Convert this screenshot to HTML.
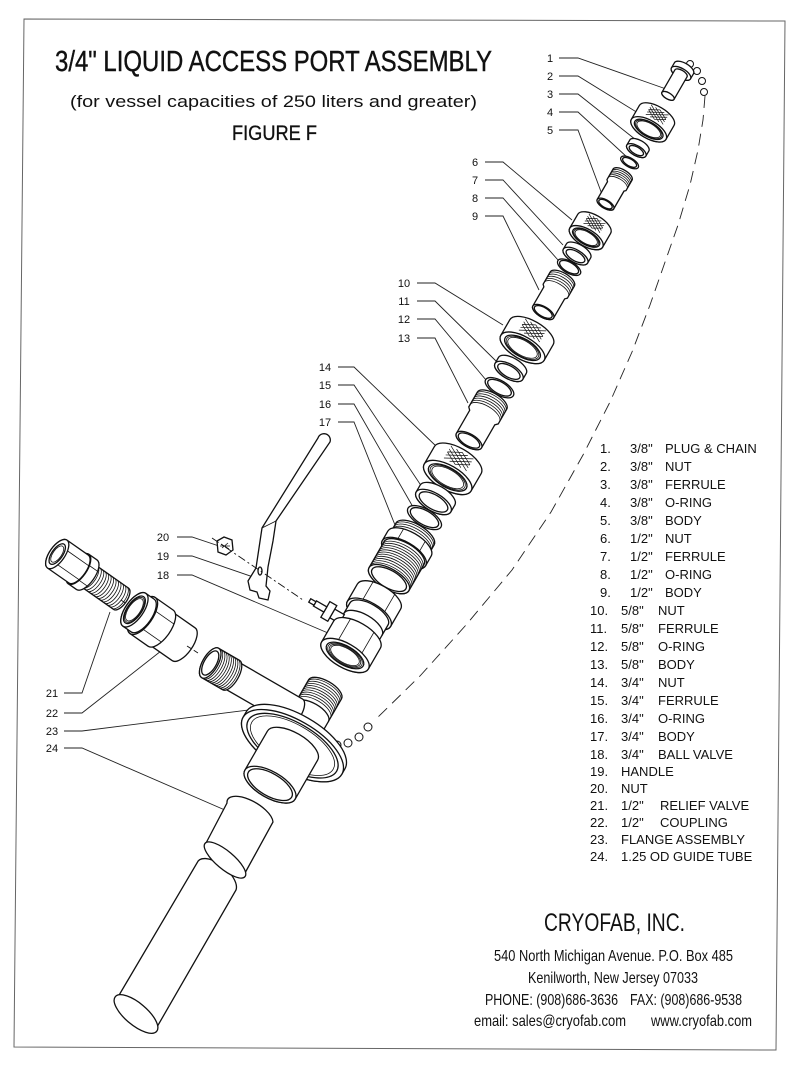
<!DOCTYPE html>
<html><head><meta charset="utf-8">
<style>
html,body{margin:0;padding:0;background:#fff;}
svg{display:block}
text{font-family:"Liberation Sans",Arial,sans-serif;fill:#111}
.s{fill:#fff;stroke:#111;stroke-width:1.3}
.n{fill:none;stroke:#111;stroke-width:1.3}
.t{fill:none;stroke:#111;stroke-width:0.8}
.l{fill:none;stroke:#222;stroke-width:0.9}
.lb{font-size:11px}
.li{font-size:13px}
</style></head><body>
<svg width="800" height="1070" viewBox="0 0 800 1070" xmlns="http://www.w3.org/2000/svg">
<defs>
<g id="hatch" fill="none" stroke="#111" stroke-width="0.7">
<path vector-effect="non-scaling-stroke" d="M-1,-0.5 L0.5,1 M-1,-1 L1,1 M-0.5,-1 L1,0.5 M-1,0 L0,1 M0,-1 L1,0 M-1,0.5 L0.5,-1 M-1,1 L1,-1 M-0.5,1 L1,-0.5 M-1,0 L0,-1 M0,1 L1,0"/>
</g>
</defs>
<rect width="800" height="1070" fill="#fff"/>
<polygon points="24,19 785,21 776,1050 14,1047" fill="none" stroke="#666" stroke-width="1"/>

<!-- Titles -->
<text x="55" y="71" font-size="29" textLength="437" lengthAdjust="spacingAndGlyphs" stroke="#111" stroke-width="0.4">3/4" LIQUID ACCESS PORT ASSEMBLY</text>
<text x="70" y="107" font-size="17" textLength="407" lengthAdjust="spacingAndGlyphs">(for vessel capacities of 250 liters and greater)</text>
<text x="232" y="140" font-size="21" textLength="85" lengthAdjust="spacingAndGlyphs" stroke="#111" stroke-width="0.3">FIGURE F</text>

<!-- Chain dashed line -->
<polyline class="l" stroke-dasharray="12 7" points="705,96 703,120 698,150 690,185 678,225 664,265 650,305 632,352 610,402 583,455 551,512 512,570 466,625 420,676 377,718"/>
<g fill="#fff" stroke="#111" stroke-width="1">
<circle cx="690" cy="64" r="3.5"/><circle cx="697" cy="71" r="3.5"/><circle cx="702" cy="81" r="3.5"/><circle cx="704" cy="92" r="3.5"/>
<circle cx="325" cy="740" r="4"/><circle cx="337" cy="745" r="4"/><circle cx="348" cy="743" r="4"/><circle cx="359" cy="737" r="4"/><circle cx="368" cy="727" r="4"/>
</g>

<!-- Leader lines -->
<g class="l">
<polyline points="559,58 578,58 669,90"/>
<polyline points="559,76 578,76 638,113"/>
<polyline points="559,94 578,94 636,140"/>
<polyline points="559,112 578,112 628,158"/>
<polyline points="559,130 578,130 603,197"/>
<polyline points="485,162 503,162 572,220"/>
<polyline points="485,180 503,180 563,245"/>
<polyline points="485,198 503,198 558,260"/>
<polyline points="485,216 503,216 539,290"/>
<polyline points="417,283 435,283 503,325"/>
<polyline points="417,301 435,301 497,362"/>
<polyline points="417,319 435,319 486,380"/>
<polyline points="417,338 435,338 468,403"/>
<polyline points="338,367 354,367 438,448"/>
<polyline points="338,385 354,385 424,490"/>
<polyline points="338,404 354,404 413,507"/>
<polyline points="338,422 354,422 395,525"/>
<polyline points="177,537 192,537 219,546"/>
<polyline points="177,556 192,556 256,578"/>
<polyline points="177,575 192,575 328,633"/>
<polyline points="64,693 82,693 110,612"/>
<polyline points="64,713 82,713 175,640"/>
<polyline points="64,731 82,731 272,707"/>
<polyline points="64,748 82,748 241,817"/>
</g>

<!-- Callout labels -->
<g class="lb" text-anchor="middle">
<text x="550" y="62">1</text><text x="550" y="80">2</text><text x="550" y="98">3</text><text x="550" y="116">4</text><text x="550" y="134">5</text>
<text x="475" y="166">6</text><text x="475" y="184">7</text><text x="475" y="202">8</text><text x="475" y="220">9</text>
<text x="404" y="287">10</text><text x="404" y="305">11</text><text x="404" y="323">12</text><text x="404" y="342">13</text>
<text x="325" y="371">14</text><text x="325" y="389">15</text><text x="325" y="408">16</text><text x="325" y="426">17</text>
<text x="163" y="541">20</text><text x="163" y="560">19</text><text x="163" y="579">18</text>
<text x="52" y="697">21</text><text x="52" y="717">22</text><text x="52" y="735">23</text><text x="52" y="752">24</text>
</g>

<!-- Part 1 plug -->
<g transform="translate(676,82) rotate(30)">
<path class="s" d="M-11,-16 A11,4.95 0 0 1 11,-16 L11,-10 A11,4.95 0 0 1 -11,-10 Z"/>
<ellipse class="s" cx="0" cy="-10" rx="11" ry="4.95"/>
<path class="s" d="M-7,-10 A7,3.15 0 0 1 7,-10 L7,16 A7,3.15 0 0 1 -7,16 Z"/>
<ellipse class="s" cx="0" cy="16" rx="7" ry="3.15"/>
</g>

<!-- Part 2 nut -->
<g transform="translate(652.7,122.4) rotate(30)">
<path class="s" d="M-20,-8 A20,9 0 0 1 20,-8 L20,8 A20,9 0 0 1 -20,8 Z"/>
<use href="#hatch" transform="translate(0,-9) scale(10,5.5)"/>
<ellipse class="s" cx="0" cy="8" rx="20" ry="9"/>
<ellipse class="s" cx="0" cy="8" rx="16" ry="7.2"/>
<ellipse class="t" cx="0" cy="8" rx="14.6" ry="6.57"/>
<ellipse class="t" cx="0" cy="8" rx="13.2" ry="5.94"/>
</g>

<!-- Part 3 ferrule -->
<g transform="translate(637.85,148) rotate(30)">
<path class="s" d="M-11,-3 A11,4.95 0 0 1 11,-3 L11,3 A11,4.95 0 0 1 -11,3 Z"/>
<ellipse class="s" cx="0" cy="3" rx="11" ry="4.95"/>
<ellipse class="s" cx="0" cy="3" rx="8" ry="3.6"/>
</g>

<!-- Part 4 o-ring -->
<g transform="translate(629.6,162.4) rotate(30)">
<ellipse class="s" cx="0" cy="0" rx="10" ry="4.5" stroke-width="1.6"/>
<ellipse class="n" cx="0" cy="0" rx="7.8" ry="3.5"/>
</g>

<!-- Part 5 body -->
<g transform="translate(614,189.4) rotate(30)">
<path class="s" d="M-11,-17 A11,4.95 0 0 1 11,-17 L11,-5 L9.5,-3.5 L9.5,17 A9.5,4.275 0 0 1 -9.5,17 L-9.5,-3.5 L-11,-5 Z"/>
<path class="t" d="M-11,-15 A11,4.95 0 0 1 11,-15 M-11,-13 A11,4.95 0 0 1 11,-13 M-11,-11 A11,4.95 0 0 1 11,-11 M-11,-9 A11,4.95 0 0 1 11,-9 M-11,-7 A11,4.95 0 0 1 11,-7"/>
<ellipse class="s" cx="0" cy="17" rx="9.5" ry="4.275"/>
<ellipse class="n" cx="0" cy="17" rx="7.5" ry="3.4"/>
</g>

<!-- Part 6 nut -->
<g transform="translate(590.2,230.7) rotate(30)">
<path class="s" d="M-19,-8 A19,8.55 0 0 1 19,-8 L19,8 A19,8.55 0 0 1 -19,8 Z"/>
<use href="#hatch" transform="translate(0,-8.5) scale(9.5,5.5)"/>
<ellipse class="s" cx="0" cy="8" rx="19" ry="8.55"/>
<ellipse class="s" cx="0" cy="8" rx="15.2" ry="6.84"/>
<ellipse class="t" cx="0" cy="8" rx="13.9" ry="6.24"/>
<ellipse class="t" cx="0" cy="8" rx="12.5" ry="5.64"/>
</g>

<!-- Part 7 ferrule -->
<g transform="translate(577,253.5) rotate(30)">
<path class="s" d="M-14,-3 A14,6.3 0 0 1 14,-3 L14,3 A14,6.3 0 0 1 -14,3 Z"/>
<ellipse class="s" cx="0" cy="3" rx="14" ry="6.3"/>
<ellipse class="s" cx="0" cy="3" rx="10.5" ry="4.7"/>
</g>

<!-- Part 8 o-ring -->
<g transform="translate(569.1,267.2) rotate(30)">
<ellipse class="s" cx="0" cy="0" rx="13" ry="5.85" stroke-width="1.6"/>
<ellipse class="n" cx="0" cy="0" rx="10.6" ry="4.8"/>
</g>

<!-- Part 9 body -->
<g transform="translate(552.75,295.5) rotate(30)">
<path class="s" d="M-14,-19 A14,6.3 0 0 1 14,-19 L14,-5 L12,-3 L12,19 A12,5.4 0 0 1 -12,19 L-12,-3 L-14,-5 Z"/>
<path class="t" d="M-14,-17 A14,6.3 0 0 1 14,-17 M-14,-14.5 A14,6.3 0 0 1 14,-14.5 M-14,-12 A14,6.3 0 0 1 14,-12 M-14,-9.5 A14,6.3 0 0 1 14,-9.5 M-14,-7 A14,6.3 0 0 1 14,-7"/>
<ellipse class="s" cx="0" cy="19" rx="12" ry="5.4"/>
<ellipse class="n" cx="0" cy="19" rx="10" ry="4.5"/>
</g>

<!-- Part 10 nut -->
<g transform="translate(527,340) rotate(30)">
<path class="s" d="M-25,-9 A25,11.25 0 0 1 25,-9 L25,9 A25,11.25 0 0 1 -25,9 Z"/>
<use href="#hatch" transform="translate(0,-11) scale(12,6.5)"/>
<ellipse class="s" cx="0" cy="9" rx="25" ry="11.25"/>
<ellipse class="s" cx="0" cy="9" rx="20" ry="9"/>
<ellipse class="t" cx="0" cy="9" rx="18.25" ry="8.2"/>
<ellipse class="t" cx="0" cy="9" rx="16.5" ry="7.4"/>
</g>

<!-- Part 11 ferrule -->
<g transform="translate(510.65,368.4) rotate(30)">
<path class="s" d="M-16,-3.5 A16,7.2 0 0 1 16,-3.5 L16,3.5 A16,7.2 0 0 1 -16,3.5 Z"/>
<ellipse class="s" cx="0" cy="3.5" rx="16" ry="7.2"/>
<ellipse class="s" cx="0" cy="3.5" rx="12.5" ry="5.6"/>
</g>

<!-- Part 12 o-ring -->
<g transform="translate(499.5,387.7) rotate(30)">
<ellipse class="s" cx="0" cy="0" rx="16" ry="7.2" stroke-width="1.6"/>
<ellipse class="n" cx="0" cy="0" rx="13.2" ry="5.9"/>
</g>

<!-- Part 13 body -->
<g transform="translate(480.5,420.6) rotate(30)">
<path class="s" d="M-17,-23 A17,7.65 0 0 1 17,-23 L17,-6 L14.5,-3.5 L14.5,23 A14.5,6.525 0 0 1 -14.5,23 L-14.5,-3.5 L-17,-6 Z"/>
<path class="t" d="M-17,-21 A17,7.65 0 0 1 17,-21 M-17,-18.5 A17,7.65 0 0 1 17,-18.5 M-17,-16 A17,7.65 0 0 1 17,-16 M-17,-13.5 A17,7.65 0 0 1 17,-13.5 M-17,-11 A17,7.65 0 0 1 17,-11 M-17,-8.5 A17,7.65 0 0 1 17,-8.5"/>
<ellipse class="s" cx="0" cy="23" rx="14.5" ry="6.525"/>
<ellipse class="n" cx="0" cy="23" rx="12" ry="5.4"/>
</g>

<!-- Part 14 nut -->
<g transform="translate(452.7,468.8) rotate(30)">
<path class="s" d="M-27,-10 A27,12.15 0 0 1 27,-10 L27,10 A27,12.15 0 0 1 -27,10 Z"/>
<use href="#hatch" transform="translate(0,-12) scale(13,7)"/>
<ellipse class="s" cx="0" cy="10" rx="27" ry="12.15"/>
<ellipse class="s" cx="0" cy="10" rx="21.6" ry="9.72"/>
<ellipse class="t" cx="0" cy="10" rx="19.7" ry="8.87"/>
<ellipse class="t" cx="0" cy="10" rx="17.8" ry="8.02"/>
</g>

<!-- Part 15 ferrule -->
<g transform="translate(435.5,498.5) rotate(30)">
<path class="s" d="M-20,-4 A20,9 0 0 1 20,-4 L20,4 A20,9 0 0 1 -20,4 Z"/>
<ellipse class="s" cx="0" cy="4" rx="20" ry="9"/>
<ellipse class="s" cx="0" cy="4" rx="16" ry="7.2"/>
</g>

<!-- Part 16 o-ring -->
<g transform="translate(424.5,517.6) rotate(30)">
<ellipse class="s" cx="0" cy="0" rx="19" ry="8.55" stroke-width="1.6"/>
<ellipse class="n" cx="0" cy="0" rx="15.8" ry="7.1"/>
</g>

<!-- Part 17 body -->
<g transform="translate(402,556.6) rotate(30)">
<path class="s" d="M-22,-26 A22,9.9 0 0 1 22,-26 L22,-15 L-22,-15 Z"/>
<path class="t" d="M-22,-24 A22,9.9 0 0 1 22,-24 M-22,-21.5 A22,9.9 0 0 1 22,-21.5 M-22,-19 A22,9.9 0 0 1 22,-19 M-22,-16.5 A22,9.9 0 0 1 22,-16.5"/>
<path class="s" d="M-25,-15 A25,11.25 0 0 1 25,-15 L25,-4 A25,11.25 0 0 1 -25,-4 Z"/>
<ellipse class="s" cx="0" cy="-4" rx="25" ry="11.25"/>
<path class="t" d="M-12.5,-24.7 L-12.5,-13.7 M12.5,-24.7 L12.5,-13.7"/>
<path class="s" d="M-23,-4 A23,10.35 0 0 1 23,-4 L23,26 A23,10.35 0 0 1 -23,26 Z"/>
<path class="t" d="M-23,-1 A23,10.35 0 0 1 23,-1 M-23,1.5 A23,10.35 0 0 1 23,1.5 M-23,4 A23,10.35 0 0 1 23,4 M-23,6.5 A23,10.35 0 0 1 23,6.5 M-23,9 A23,10.35 0 0 1 23,9 M-23,11.5 A23,10.35 0 0 1 23,11.5 M-23,14 A23,10.35 0 0 1 23,14 M-23,16.5 A23,10.35 0 0 1 23,16.5 M-23,19 A23,10.35 0 0 1 23,19 M-23,21.5 A23,10.35 0 0 1 23,21.5 M-23,24 A23,10.35 0 0 1 23,24"/>
<ellipse class="s" cx="0" cy="26" rx="23" ry="10.35"/>
<ellipse class="n" cx="0" cy="26" rx="19.5" ry="8.8"/>
</g>

<!-- Handle 19 -->
<path class="s" d="M318,438 A5,5 0 0 1 330,442 L276,521 L273,541 L268,567 L266,586 L270,591 L268,600 L259,598 L257,592 L250,590 L248,581 L256,568 L262,528 Z"/>
<path class="t" d="M262,528 L276,521"/>
<ellipse class="n" cx="260" cy="571" rx="2" ry="4" stroke-width="1"/>

<!-- Nut 20 -->
<polygon class="s" points="217,541 224,537 232,540 233,550 226,555 218,552"/>
<path class="t" d="M221,544 L229,549 M222,548 L228,543 M220,546 L230,546"/>

<!-- dash-dot line 20-19-18 -->
<line x1="212" y1="538" x2="303" y2="600" stroke="#111" stroke-width="0.9" stroke-dasharray="8 3 2 3"/>

<!-- Part 18 ball valve -->
<g transform="translate(362,626) rotate(30)">
<path class="s" d="M-25,-34 A25,11.25 0 0 1 25,-34 L25,-14 A25,11.25 0 0 1 -25,-14 Z"/>
<ellipse class="s" cx="0" cy="-14" rx="25" ry="11.25"/>
<path class="t" d="M-12.5,-43.7 L-12.5,-23.7 M12.5,-43.7 L12.5,-23.7"/>
<path class="s" d="M-22,-14 A22,9.9 0 0 1 22,-14 L22,10 A22,9.9 0 0 1 -22,10 Z"/>
<path class="n" d="M-22,-2 A22,9.9 0 0 1 22,-2"/>
<rect class="s" x="-32" y="-1" width="11" height="10"/>
<rect class="s" x="-40" y="-5" width="8" height="18"/>
<rect class="s" x="-52" y="1" width="12" height="6"/>
<rect class="s" x="-58" y="2" width="6" height="4"/>
<path class="s" d="M-27,10 A27,12.15 0 0 1 27,10 L27,34 A27,12.15 0 0 1 -27,34 Z"/>
<path class="t" d="M-13.5,-0.5 L-13.5,23.5 M13.5,-0.5 L13.5,23.5"/>
<ellipse class="s" cx="0" cy="34" rx="27" ry="12.15"/>
<ellipse class="s" cx="0" cy="34" rx="21" ry="9.45"/>
<ellipse class="t" cx="0" cy="34" rx="19.3" ry="8.7"/>
<ellipse class="t" cx="0" cy="34" rx="17.6" ry="7.9"/>
<ellipse class="t" cx="0" cy="34" rx="16" ry="7.2"/>
</g>

<!-- Part 21 relief valve -->
<g transform="translate(90,577) rotate(125)">
<path class="s" d="M-13,-38 A13,5.85 0 0 1 13,-38 L13,4 L-13,4 Z"/>
<path class="t" d="M-13,-36 A13,5.85 0 0 1 13,-36 M-13,-33 A13,5.85 0 0 1 13,-33 M-13,-30 A13,5.85 0 0 1 13,-30 M-13,-27 A13,5.85 0 0 1 13,-27 M-13,-24 A13,5.85 0 0 1 13,-24 M-13,-21 A13,5.85 0 0 1 13,-21 M-13,-18 A13,5.85 0 0 1 13,-18 M-13,-15 A13,5.85 0 0 1 13,-15 M-13,-12 A13,5.85 0 0 1 13,-12 M-13,-9 A13,5.85 0 0 1 13,-9 M-13,-6 A13,5.85 0 0 1 13,-6 M-13,-3 A13,5.85 0 0 1 13,-3 M-13,0 A13,5.85 0 0 1 13,0"/>
<path class="s" d="M-18,4 A18,8.1 0 0 1 18,4 L18,14 A18,8.1 0 0 1 -18,14 Z"/>
<path class="t" d="M-9,-3 L-9,7 M9,-3 L9,7"/>
<ellipse class="s" cx="0" cy="14" rx="18" ry="8.1"/>
<path class="s" d="M-17,14 A17,7.65 0 0 1 17,14 L17,40 A17,7.65 0 0 1 -17,40 Z"/>
<path class="t" d="M-8.5,7.4 L-8.5,33.4 M8.5,7.4 L8.5,33.4"/>
<ellipse class="s" cx="0" cy="40" rx="17" ry="7.65"/>
<ellipse class="s" cx="0" cy="40" rx="12" ry="5.4"/>
<ellipse class="t" cx="0" cy="40" rx="9.5" ry="4.3"/>
</g>
<line x1="121" y1="600" x2="135" y2="610" stroke="#111" stroke-width="0.9" stroke-dasharray="5 3"/>

<!-- Part 22 coupling -->
<g transform="translate(159,627) rotate(125)">
<path class="s" d="M-20,-30 A20,9 0 0 1 20,-30 L20,-2 L-20,-2 Z"/>
<path class="s" d="M-22,-2 A22,9.9 0 0 1 22,-2 L22,20 A22,9.9 0 0 1 -22,20 Z"/>
<path class="t" d="M-11,-10.6 L-11,11.4 M11,-10.6 L11,11.4"/>
<ellipse class="s" cx="0" cy="20" rx="22" ry="9.9"/>
<path class="s" d="M-20,20 A20,9 0 0 1 20,20 L20,30 A20,9 0 0 1 -20,30 Z"/>
<ellipse class="s" cx="0" cy="30" rx="20" ry="9"/>
<ellipse class="s" cx="0" cy="30" rx="16" ry="7.2"/>
<ellipse class="t" cx="0" cy="30" rx="14.5" ry="6.5"/>
<ellipse class="t" cx="0" cy="30" rx="13" ry="5.85"/>
</g>
<line x1="187" y1="646" x2="198" y2="653" stroke="#111" stroke-width="0.9" stroke-dasharray="5 3"/>

<!-- Part 23 flange assembly -->
<g transform="translate(290,750) rotate(30)">
<path class="s" d="M-19,-70 A19,8.55 0 0 1 19,-70 L19,-44 L-19,-44 Z"/>
<path class="t" d="M-19,-68 A19,8.55 0 0 1 19,-68 M-19,-65.5 A19,8.55 0 0 1 19,-65.5 M-19,-63 A19,8.55 0 0 1 19,-63 M-19,-60.5 A19,8.55 0 0 1 19,-60.5 M-19,-58 A19,8.55 0 0 1 19,-58 M-19,-55.5 A19,8.55 0 0 1 19,-55.5 M-19,-53 A19,8.55 0 0 1 19,-53 M-19,-50.5 A19,8.55 0 0 1 19,-50.5 M-19,-48 A19,8.55 0 0 1 19,-48"/>
<path class="s" d="M-19,-44 A19,8.55 0 0 1 19,-44 L19,-10 L-19,-10 Z"/>
</g>
<g transform="translate(257,690) rotate(120)">
<path class="s" d="M-15,-44 A15,6.75 0 0 1 15,-44 L15,30 L-15,30 Z"/>
<path class="s" d="M-17,30 A17,7.65 0 0 1 17,30 L17,54 A17,7.65 0 0 1 -17,54 Z"/>
<path class="t" d="M-17,32 A17,7.65 0 0 1 17,32 M-17,34.5 A17,7.65 0 0 1 17,34.5 M-17,37 A17,7.65 0 0 1 17,37 M-17,39.5 A17,7.65 0 0 1 17,39.5 M-17,42 A17,7.65 0 0 1 17,42 M-17,44.5 A17,7.65 0 0 1 17,44.5 M-17,47 A17,7.65 0 0 1 17,47 M-17,49.5 A17,7.65 0 0 1 17,49.5 M-17,52 A17,7.65 0 0 1 17,52"/>
<ellipse class="s" cx="0" cy="54" rx="17" ry="7.65"/>
<ellipse class="n" cx="0" cy="54" rx="13.5" ry="6.1"/>
</g>
<g transform="translate(290,750) rotate(30)">
<path class="s" d="M-57,-11 A57,25.65 0 0 1 57,-11 L57,-5 A57,25.65 0 0 1 -57,-5 Z"/>
<ellipse class="s" cx="0" cy="-5" rx="57" ry="25.65"/>
<ellipse class="n" cx="0" cy="-5" rx="51" ry="22.95"/>
<ellipse class="t" cx="0" cy="-5" rx="47" ry="21.15"/>
<path class="s" d="M-29,-5 A29,13.05 0 0 1 29,-5 L29,40 A29,13.05 0 0 1 -29,40 Z"/>
<ellipse class="s" cx="0" cy="40" rx="29" ry="13.05"/>
<ellipse class="n" cx="0" cy="40" rx="25" ry="11.25"/>
</g>

<!-- Part 24 guide tube -->
<path class="s" d="M197,863 A24,12 40 0 1 236,890 L157,1027 L115,1002 Z"/>
<ellipse class="s" cx="136" cy="1014" rx="27" ry="11" transform="rotate(40 136 1014)"/>
<path class="s" d="M227,803 A25,11 30 0 1 273,822 L245,873 L205,845 Z"/>
<ellipse class="s" cx="225" cy="860" rx="26" ry="9" transform="rotate(40 225 860)"/>

<!-- Parts list -->
<g class="li">
<text x="600" y="453">1.</text><text x="630" y="453">3/8"</text><text x="665" y="453">PLUG &amp; CHAIN</text>
<text x="600" y="471">2.</text><text x="630" y="471">3/8"</text><text x="665" y="471">NUT</text>
<text x="600" y="489">3.</text><text x="630" y="489">3/8"</text><text x="665" y="489">FERRULE</text>
<text x="600" y="507">4.</text><text x="630" y="507">3/8"</text><text x="665" y="507">O-RING</text>
<text x="600" y="525">5.</text><text x="630" y="525">3/8"</text><text x="665" y="525">BODY</text>
<text x="600" y="543">6.</text><text x="630" y="543">1/2"</text><text x="665" y="543">NUT</text>
<text x="600" y="561">7.</text><text x="630" y="561">1/2"</text><text x="665" y="561">FERRULE</text>
<text x="600" y="579">8.</text><text x="630" y="579">1/2"</text><text x="665" y="579">O-RING</text>
<text x="600" y="597">9.</text><text x="630" y="597">1/2"</text><text x="665" y="597">BODY</text>
<text x="590" y="615">10.</text><text x="621" y="615">5/8"</text><text x="658" y="615">NUT</text>
<text x="590" y="633">11.</text><text x="621" y="633">5/8"</text><text x="658" y="633">FERRULE</text>
<text x="590" y="651">12.</text><text x="621" y="651">5/8"</text><text x="658" y="651">O-RING</text>
<text x="590" y="669">13.</text><text x="621" y="669">5/8"</text><text x="658" y="669">BODY</text>
<text x="590" y="687">14.</text><text x="621" y="687">3/4"</text><text x="658" y="687">NUT</text>
<text x="590" y="705">15.</text><text x="621" y="705">3/4"</text><text x="658" y="705">FERRULE</text>
<text x="590" y="723">16.</text><text x="621" y="723">3/4"</text><text x="658" y="723">O-RING</text>
<text x="590" y="741">17.</text><text x="621" y="741">3/4"</text><text x="658" y="741">BODY</text>
<text x="590" y="759">18.</text><text x="621" y="759">3/4"</text><text x="658" y="759">BALL VALVE</text>
<text x="590" y="776">19.</text><text x="621" y="776">HANDLE</text>
<text x="590" y="793">20.</text><text x="621" y="793">NUT</text>
<text x="590" y="810">21.</text><text x="621" y="810">1/2"</text><text x="660" y="810">RELIEF VALVE</text>
<text x="590" y="827">22.</text><text x="621" y="827">1/2"</text><text x="660" y="827">COUPLING</text>
<text x="590" y="844">23.</text><text x="621" y="844">FLANGE ASSEMBLY</text>
<text x="590" y="861">24.</text><text x="621" y="861">1.25 OD GUIDE TUBE</text>
</g>

<!-- Company info -->
<text x="544" y="931" font-size="25" textLength="141" lengthAdjust="spacingAndGlyphs">CRYOFAB, INC.</text>
<text x="494" y="961" font-size="16" textLength="239" lengthAdjust="spacingAndGlyphs">540 North Michigan Avenue. P.O. Box 485</text>
<text x="528" y="983" font-size="16" textLength="170" lengthAdjust="spacingAndGlyphs">Kenilworth, New Jersey 07033</text>
<text x="485" y="1005" font-size="16" textLength="133" lengthAdjust="spacingAndGlyphs">PHONE: (908)686-3636</text>
<text x="630" y="1005" font-size="16" textLength="112" lengthAdjust="spacingAndGlyphs">FAX: (908)686-9538</text>
<text x="474" y="1026" font-size="16" textLength="152" lengthAdjust="spacingAndGlyphs">email: sales@cryofab.com</text>
<text x="651" y="1026" font-size="16" textLength="101" lengthAdjust="spacingAndGlyphs">www.cryofab.com</text>
</svg>
</body></html>
